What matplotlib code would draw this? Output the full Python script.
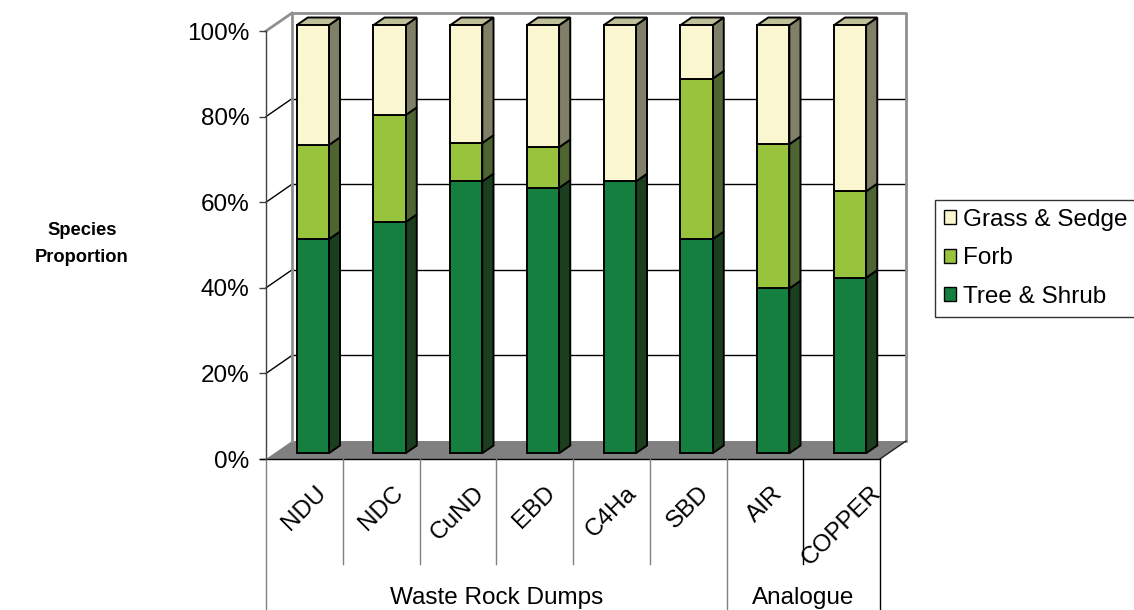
import numpy as np
import matplotlib
matplotlib.use('Agg')
import matplotlib.pyplot as plt
from matplotlib.patches import Patch

plt.rcParams['font.family'] = ['Liberation Sans', 'DejaVu Sans']

sites = ['NDU', 'NDC', 'CuND', 'EBD', 'C4Ha', 'SBD', 'AIR', 'COPPER']
groups = ['Waste Rock Dumps', 'Analogue']
group_sizes = [6, 2]
# proportions (%) per site, bottom to top of each stack
tree_shrub = [50.0, 54.0, 63.5, 62.0, 63.5, 50.0, 38.5, 41.0]
forb = [22.0, 25.0, 9.0, 9.5, 0.0, 37.5, 33.7, 20.2]
grass_sedge = [28.0, 21.0, 27.5, 28.5, 36.5, 12.5, 27.8, 38.8]
series_names = ['Tree & Shrub', 'Forb', 'Grass & Sedge']
yticks = [0, 20, 40, 60, 80, 100]

front_col = ['#157F3F', '#98C33D', '#FAF7D0']
side_col = ['#1B3F1E', '#4E6531', '#808068']
top_col = '#BFBF99'

# oblique depth: full depth shifts this much in x units / percent units
DX, DY = 0.339, 4.2
Z0, Z1 = 0.32, 0.75   # bar depth range
W = 0.42              # bar width


def proj(x, y, z):
    return x + z * DX, y + z * DY


fig = plt.figure(figsize=(11.34, 6.10), dpi=100)
ax = fig.add_axes([266 / 1134, 151 / 610, 614 / 1134, 428 / 610])
ax.set_xlim(0, 8)
ax.set_ylim(0, 100)
ax.patch.set_visible(False)
for s in ['top', 'right', 'bottom']:
    ax.spines[s].set_visible(False)
ax.spines['left'].set_color('#404040')
ax.spines['left'].set_linewidth(1.0)
ax.set_xticks([])
ax.set_yticks(yticks)
ax.set_yticklabels([f'{t}%' for t in yticks], fontsize=17.5)
ax.tick_params(axis='y', length=5, width=1.0, color='#404040', pad=7)

n = len(sites)

# floor
fx, fy = zip(*[proj(0, 0, 0), proj(n, 0, 0), proj(n, 0, 1), proj(0, 0, 1)])
ax.fill(fx, fy, color='#808080', lw=0, zorder=1, clip_on=False)
ax.plot(*zip(proj(n, 0, 0), proj(n, 0, 1)), color='#202020', lw=1.0,
        zorder=1.5, clip_on=False)

# back wall gridlines and left wall diagonals
for t in yticks[1:-1]:
    ax.plot(*zip(proj(0, t, 1), proj(n, t, 1)), color='black', lw=1.0,
            zorder=1, clip_on=False)
for t in yticks[1:]:
    c = '#909090' if t == 100 else 'black'
    ax.plot(*zip(proj(0, t, 0), proj(0, t, 1)), color=c, lw=1.0 if t < 100 else 2.0,
            zorder=1, clip_on=False)
# back wall frame
bx, by = zip(proj(0, 0, 1), proj(0, 100, 1), proj(n, 100, 1), proj(n, 0, 1))
ax.plot(bx, by, color='#909090', lw=2.0, zorder=1, clip_on=False)

# stacked 3D bars
stack = [tree_shrub, forb, grass_sedge]
bottoms = np.zeros(n)
for k, vals in enumerate(stack):
    vals = np.array(vals)
    xs = np.arange(n) + 0.5 + Z0 * DX
    ax.bar(xs, vals, width=W, bottom=bottoms + Z0 * DY, color=front_col[k],
           edgecolor='black', linewidth=1.4, zorder=3, clip_on=False)
    for i in range(n):
        if vals[i] <= 0:
            continue
        xr = i + 0.5 + W / 2
        y0, y1 = bottoms[i], bottoms[i] + vals[i]
        px, py = zip(proj(xr, y0, Z0), proj(xr, y0, Z1), proj(xr, y1, Z1), proj(xr, y1, Z0))
        ax.fill(px, py, facecolor=side_col[k], edgecolor='black', lw=1.4,
                zorder=2.5, clip_on=False, joinstyle='miter')
    bottoms = bottoms + vals

for i in range(n):
    xl, xr = i + 0.5 - W / 2, i + 0.5 + W / 2
    top = bottoms[i]
    px, py = zip(proj(xl, top, Z0), proj(xr, top, Z0), proj(xr, top, Z1), proj(xl, top, Z1))
    ax.fill(px, py, facecolor=top_col, edgecolor='black', lw=1.4,
            zorder=2.5, clip_on=False, joinstyle='miter')

# category axis: baseline, cell separators, labels
ypx = 428 / 100  # pixels per percent
row1 = -(564 - 459) / ypx
row2 = -(612 - 459) / ypx
ax.plot([-6 / 76.75, n], [0, 0], color='black', lw=1.0, zorder=2, clip_on=False)
edges = np.cumsum([0] + group_sizes)
for i in range(n + 1):
    low = row2 if i in edges else row1
    c = 'black' if i >= 7 else '#808080'
    ax.plot([i, i], [0, low], color=c, lw=1.0, zorder=2, clip_on=False)
for i, name in enumerate(sites):
    ax.text(i + 0.5, -(482 - 459) / ypx, name, rotation=45, ha='center', va='top',
            fontsize=17.5, zorder=4, clip_on=False)
for g, name in enumerate(groups):
    ax.text((edges[g] + edges[g + 1]) / 2, -(598 - 459) / ypx, name,
            ha='center', va='center', fontsize=17.5, clip_on=False)

fig.text(82 / 1134, 1 - 244 / 610, 'Species\nProportion', ha='center', va='center',
         fontsize=13.2, fontweight='bold', linespacing=1.8)

handles = [Patch(facecolor=front_col[k], edgecolor='black', linewidth=1.0)
           for k in [2, 1, 0]]
leg = fig.legend(handles, [series_names[k] for k in [2, 1, 0]],
                 loc='upper left', mode='expand',
                 bbox_to_anchor=(935 / 1134, 1 - 200 / 610, 215 / 1134, 0),
                 fontsize=17.5, frameon=True, fancybox=False, edgecolor='black',
                 handlelength=0.5, handleheight=0.5, handletextpad=0.3,
                 labelspacing=0.68, borderpad=0.36, borderaxespad=0)
leg.get_frame().set_linewidth(1.0)

fig.savefig('out.png', dpi=100)
